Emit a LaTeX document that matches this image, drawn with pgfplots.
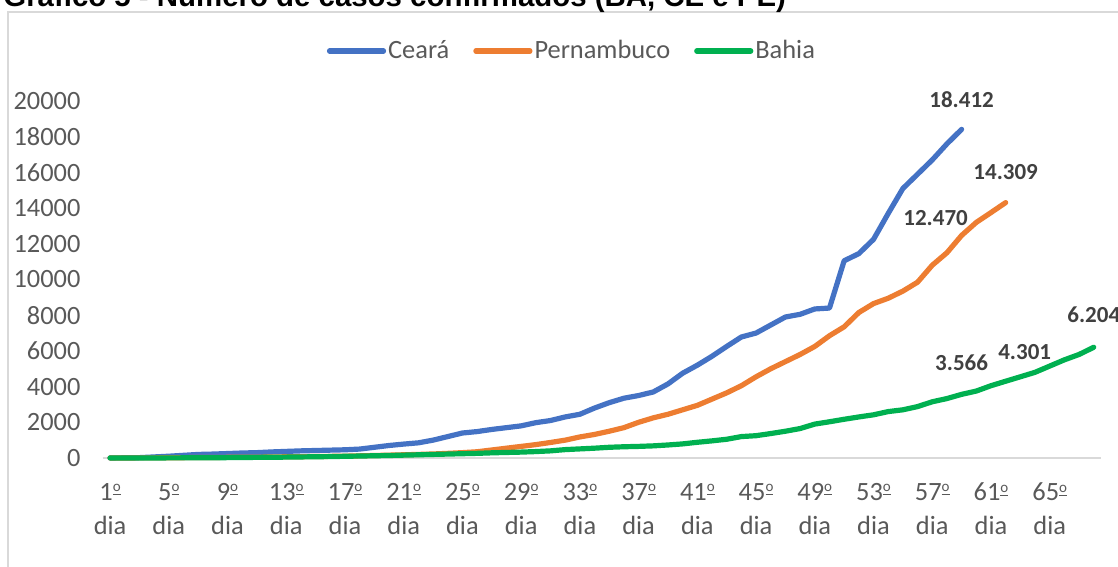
\documentclass[border=0pt]{standalone}
\usepackage{fontspec}
\setmainfont{Carlito}
\newfontfamily\titlefont{Liberation Sans}
\usepackage{pgfplots}
\usepackage{pgfplotstable}
\pgfplotsset{compat=1.18}

\definecolor{ceblue}{HTML}{4472C4}
\definecolor{peorange}{HTML}{ED7D31}
\definecolor{bagreen}{HTML}{00B050}
\definecolor{labelgray}{HTML}{595959}
\definecolor{datagray}{HTML}{404040}
\definecolor{axisgray}{HTML}{D9D9D9}

% indicador ordinal (o sublinhado, como no Calibri)
\newcommand{\ord}{\raisebox{0.32em}{\fontsize{7.5}{8}\selectfont\underline{o}}}

% casos confirmados por dia (nan = sem dado)
\pgfplotstableread{
day CE PE BA
1 3 2 2
2 10 2 2
3 20 7 2
4 60 7 4
5 100 16 6
6 150 19 9
7 200 28 10
8 220 30 15
9 250 37 20
10 280 42 30
11 300 46 35
12 340 56 40
13 370 68 50
14 400 73 60
15 420 83 70
16 440 91 80
17 460 102 95
18 500 120 110
19 600 140 125
20 700 160 140
21 780 180 160
22 850 200 180
23 1000 225 200
24 1200 260 220
25 1400 300 240
26 1480 350 260
27 1600 450 290
28 1700 550 310
29 1800 650 330
30 1980 750 360
31 2100 870 400
32 2300 1000 470
33 2450 1180 510
34 2800 1320 550
35 3100 1500 600
36 3350 1700 630
37 3500 2000 650
38 3700 2250 680
39 4150 2450 730
40 4750 2700 790
41 5200 2950 880
42 5700 3300 960
43 6250 3650 1050
44 6780 4050 1200
45 7000 4550 1250
46 7450 5000 1370
47 7900 5400 1500
48 8050 5800 1650
49 8350 6250 1900
50 8400 6850 2030
51 11050 7350 2170
52 11450 8150 2300
53 12250 8650 2420
54 13700 8950 2600
55 15100 9350 2700
56 15900 9850 2880
57 16700 10800 3150
58 17600 11500 3330
59 18412 12470 3566
60 nan 13200 3750
61 nan 13750 4050
62 nan 14309 4301
63 nan nan 4550
64 nan nan 4800
65 nan nan 5150
66 nan nan 5500
67 nan nan 5800
68 nan nan 6204
}\casos

\begin{document}
\begin{tikzpicture}
\path[use as bounding box] (0,0) rectangle (559pt,283.5pt);
\clip (0,0) rectangle (559pt,283.5pt);
\draw[axisgray, line width=0.75pt] (4pt,-2pt) -- (4pt,277.5pt) -- (565pt,277.5pt);
\node[anchor=base west, inner sep=0pt, font=\titlefont\bfseries\fontsize{14.7}{17}\selectfont]
  at (1.5pt,280pt) {Gráfico 5 - Número de casos confirmados (BA, CE e PE)};

\begin{axis}[
    at={(51.35pt,54.5pt)}, anchor=south west,
    scale only axis,
    width=499.2pt, height=178.5pt,
    xmin=0.5, xmax=68.5,
    ymin=0, ymax=20000,
    clip=false,
    axis lines*=left,
    y axis line style={draw=none},
    x axis line style={draw=axisgray, line width=1pt, -},
    major tick length=0pt,
    tick style={draw=none},
    ytick={0,2000,...,20000},
    xtick={1,5,...,65},
    xticklabels={1\ord\\dia,5\ord\\dia,9\ord\\dia,13\ord\\dia,17\ord\\dia,21\ord\\dia,25\ord\\dia,29\ord\\dia,33\ord\\dia,37\ord\\dia,41\ord\\dia,45\ord\\dia,49\ord\\dia,53\ord\\dia,57\ord\\dia,61\ord\\dia,65\ord\\dia},
    scaled y ticks=false,
    yticklabel style={
        /pgf/number format/fixed,
        /pgf/number format/1000 sep={},
        /pgf/number format/assume math mode=true,
        font=\fontsize{13.2}{15}\selectfont, text=labelgray, xshift=-7.6pt},
    xticklabel style={align=center, font=\fontsize{13.2}{17}\selectfont,
        text=labelgray, yshift=-9pt},
    every axis plot/.append style={line width=2.6pt, line join=round, line cap=round, mark=none},
    legend columns=-1,
    legend style={at={(axis description cs:0.471,1.14)}, anchor=center,
        draw=none, fill=none, font=\fontsize{13.2}{15}\selectfont, text=labelgray,
        /tikz/every odd column/.append style={column sep=-1pt},
        /tikz/every even column/.append style={column sep=10pt}},
    legend image code/.code={\draw[#1] (0pt,0pt) -- (27pt,0pt);},
]
\addplot[ceblue] table[x=day, y=CE] {\casos};
\addlegendentry{Ceará}
\addplot[peorange] table[x=day, y=PE] {\casos};
\addlegendentry{Pernambuco}
\addplot[bagreen] table[x=day, y=BA] {\casos};
\addlegendentry{Bahia}

\tikzset{dlabel/.style={font=\bfseries\fontsize{11.5}{13}\selectfont, text=datagray}}
\node[dlabel, yshift=15pt] at (axis cs:59,18412) {18.412};
\node[dlabel, yshift=15.5pt] at (axis cs:62,14309) {14.309};
\node[dlabel, xshift=-13pt, yshift=8.5pt] at (axis cs:59,12470) {12.470};
\node[dlabel, yshift=16.5pt] at (axis cs:68,6204) {6.204};
\node[dlabel, xshift=9.5pt, yshift=14.5pt] at (axis cs:62,4301) {4.301};
\node[dlabel, yshift=16pt] at (axis cs:59,3566) {3.566};
\end{axis}
\end{tikzpicture}
\end{document}
